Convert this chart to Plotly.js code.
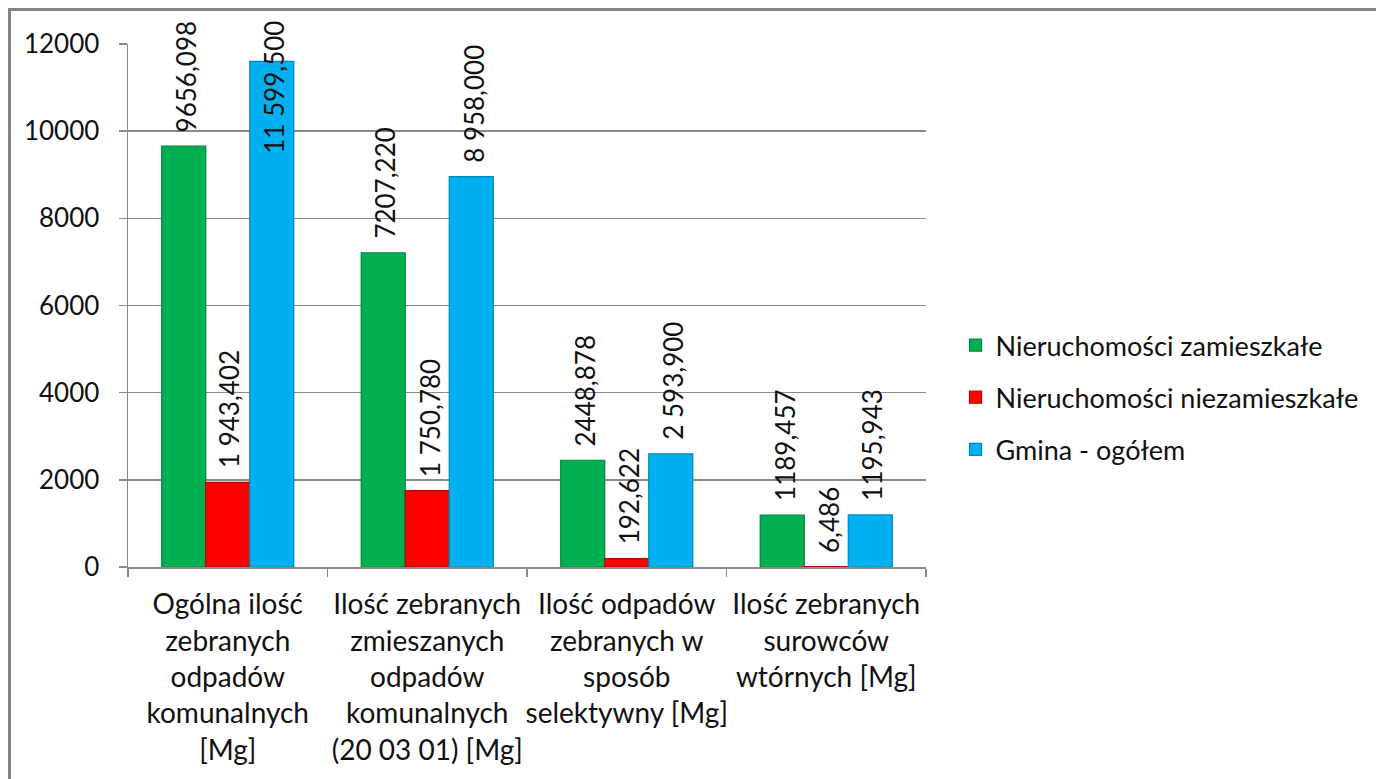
<!DOCTYPE html>
<html><head><meta charset="utf-8">
<script src="https://cdn.plot.ly/plotly-3.0.1.min.js"></script>
<style>
html,body{margin:0;padding:0;overflow:hidden;background:#fff;}
#chart{position:absolute;left:0;top:0;width:1376px;height:779px;}
#frame{position:absolute;left:8px;top:8px;width:1500px;height:900px;border-left:3px solid #858585;border-top:3px solid #858585;pointer-events:none;}
</style></head><body>
<div id="chart"></div><div id="frame"></div>
<script>
const categories = [
  "Ogólna ilość<br>zebranych<br>odpadów<br>komunalnych<br>[Mg]",
  "Ilość zebranych<br>zmieszanych<br>odpadów<br>komunalnych<br>(20 03 01) [Mg]",
  "Ilość odpadów<br>zebranych w<br>sposób<br>selektywny [Mg]",
  "Ilość zebranych<br>surowców<br>wtórnych [Mg]"
];
const seriesNames = ["Nieruchomości zamieszkałe", "Nieruchomości niezamieszkałe", "Gmina - ogółem"];
const zamieszkale = [9656.098, 7207.220, 2448.878, 1189.457];
const niezamieszkale = [1943.402, 1750.780, 192.622, 6.486];
const gmina = [11599.500, 8958.000, 2593.900, 1195.943];
const zamieszkaleLabels = ["9656,098", "7207,220", "2448,878", "1189,457"];
const niezamieszkaleLabels = ["1 943,402", "1 750,780", "192,622", "6,486"];
const gminaLabels = ["11 599,500", "8 958,000", "2 593,900", "1195,943"];
const yTicks = [0, 2000, 4000, 6000, 8000, 10000, 12000];

const FONT = "Lato, 'Liberation Sans', sans-serif";
const colors = ["#00B050", "#FF0000", "#00B0F0"];
const edges = ["#00853c", "#c00000", "#0088bb"];
const values = [zamieszkale, niezamieszkale, gmina];
const labels = [zamieszkaleLabels, niezamieszkaleLabels, gminaLabels];

const W = 1376, Hh = 779;
const M = {l: 128, r: 450, t: 43.5, b: 212.3};
const plotW = W - M.l - M.r, plotH = Hh - M.t - M.b;
const bargap = 0.338;
const yMax = 12000;
const labelSize = 26;

function build() {
  const traces = seriesNames.map((name, i) => ({
    type: 'bar', name: name, x: categories, y: values[i],
    legendgroup: 'g' + i,
    marker: {color: colors[i], line: {color: edges[i], width: 1.2}},
    hoverinfo: 'skip'
  }));

  const ctx = document.createElement('canvas').getContext('2d');
  ctx.font = labelSize + "px Lato";
  const catW = plotW / categories.length;
  const barW = catW * (1 - bargap) / seriesNames.length;
  const gapPx = 12;
  const topLimit = 18;
  const annotations = [];
  values.forEach((vals, i) => {
    vals.forEach((v, j) => {
      const txt = labels[i][j];
      const len = ctx.measureText(txt).width;
      const barTopPx = M.t + plotH * (1 - v / yMax);
      const a = {
        x: categories[j], xref: 'x', xshift: (i - 1) * barW + 2,
        text: txt, textangle: -90, showarrow: false,
        font: {family: FONT, size: labelSize, color: '#111'},
        xanchor: 'center'
      };
      if (barTopPx - gapPx - len - 4 < topLimit) {
        a.yref = 'paper'; a.y = 1 + (M.t - topLimit) / plotH; a.yanchor = 'top';
      } else {
        a.yref = 'y'; a.y = v; a.yanchor = 'bottom'; a.yshift = gapPx;
      }
      annotations.push(a);
    });
  });

  const layout = {
    width: W, height: Hh,
    margin: M,
    paper_bgcolor: 'rgba(0,0,0,0)', plot_bgcolor: '#fff',
    barmode: 'group', bargap: bargap, bargroupgap: 0,
    showlegend: true,
    legend: {
      x: 1.037, xanchor: 'left', y: 0.324, yanchor: 'middle',
      font: {family: FONT, size: 27, color: '#111'},
      traceorder: 'grouped', tracegroupgap: 14,
      bgcolor: 'rgba(0,0,0,0)'
    },
    xaxis: {
      type: 'category', showgrid: false, showline: true,
      linecolor: '#8a8a8a', linewidth: 1.5,
      ticks: 'outside', tickson: 'boundaries', ticklen: 8, tickcolor: '#8a8a8a', tickwidth: 1.5,
      tickfont: {family: FONT, size: 28, color: '#111'},
      tickangle: 0, automargin: false,
      ticklabelstandoff: 12,
      fixedrange: true
    },
    yaxis: {
      range: [0, yMax], tickvals: yTicks, ticktext: yTicks.map(String),
      showgrid: true, gridcolor: '#8a8a8a', gridwidth: 1.5,
      showline: true, linecolor: '#8a8a8a', linewidth: 1.5,
      zeroline: false,
      ticks: 'outside', ticklen: 8, tickcolor: '#8a8a8a', tickwidth: 1.5,
      tickfont: {family: FONT, size: 26, color: '#111'},
      ticklabelstandoff: 14,
      fixedrange: true
    },
    annotations: annotations
  };
  Plotly.newPlot('chart', traces, layout, {displayModeBar: false, staticPlot: true});
}

if (document.fonts && document.fonts.load) {
  document.fonts.load(labelSize + "px Lato").then(build, build);
} else { build(); }
</script>
</body></html>
